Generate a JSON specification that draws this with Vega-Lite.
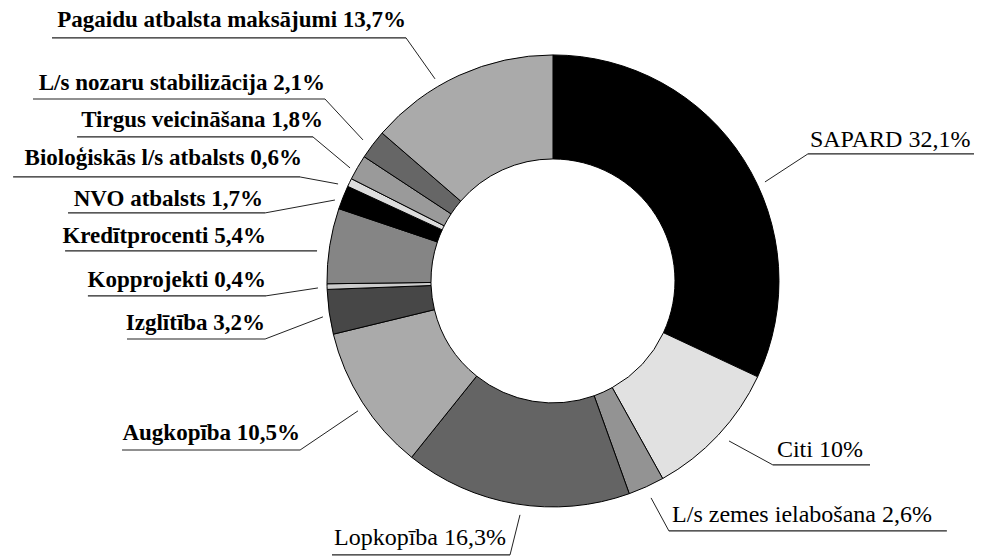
{
  "$schema": "https://vega.github.io/schema/vega-lite/v6.json",
  "width": 988,
  "height": 556,
  "padding": 0,
  "autosize": {"type": "none"},
  "background": "white",
  "config": {"view": {"stroke": null}, "font": "Liberation Serif, serif"},
  "datasets": {
    "slices": [
      {"nr": 1, "category": "SAPARD", "share": 32.1},
      {"nr": 2, "category": "Citi", "share": 10},
      {"nr": 3, "category": "L/s zemes ielabošana", "share": 2.6},
      {"nr": 4, "category": "Lopkopība", "share": 16.3},
      {"nr": 5, "category": "Augkopība", "share": 10.5},
      {"nr": 6, "category": "Izglītība", "share": 3.2},
      {"nr": 7, "category": "Kopprojekti", "share": 0.4},
      {"nr": 8, "category": "Kredītprocenti", "share": 5.4},
      {"nr": 9, "category": "NVO atbalsts", "share": 1.7},
      {"nr": 10, "category": "Bioloģiskās l/s atbalsts", "share": 0.6},
      {"nr": 11, "category": "Tirgus veicināšana", "share": 1.8},
      {"nr": 12, "category": "L/s nozaru stabilizācija", "share": 2.1},
      {"nr": 13, "category": "Pagaidu atbalsta maksājumi", "share": 13.7}
    ],
    "labels": [
      {"category": "SAPARD", "label": "SAPARD 32,1%", "tx": 113.7, "ty": 59.3, "uin": 112.8, "uout": 186.3, "uy": 56.2, "px": 93.8, "py": 43.8},
      {"category": "Citi", "label": "Citi 10%", "tx": 99.1, "ty": -77.9, "uin": 97.3, "uout": 140.3, "uy": -81.4, "px": 77.9, "py": -70.8},
      {"category": "L/s zemes ielabošana", "label": "L/s zemes ielabošana 2,6%", "tx": 52.7, "ty": -106.6, "uin": 51.3, "uout": 174.3, "uy": -110.6, "px": 43.4, "py": -96.0},
      {"category": "Lopkopība", "label": "Lopkopība 16,3%", "tx": -20.8, "ty": -116.8, "uin": -19.0, "uout": -97.8, "uy": -121.2, "px": -14.6, "py": -103.5},
      {"category": "Augkopība", "label": "Augkopība 10,5%", "tx": -111.9, "ty": -70.4, "uin": -111.9, "uout": -190.7, "uy": -74.8, "px": -86.3, "py": -57.5},
      {"category": "Izglītība", "label": "Izglītība 3,2%", "tx": -127.4, "ty": -21.7, "uin": -127.4, "uout": -188.5, "uy": -25.7, "px": -101.8, "py": -15.9},
      {"category": "Kopprojekti", "label": "Kopprojekti 0,4%", "tx": -127.0, "ty": -2.7, "uin": -127.0, "uout": -205.8, "uy": -6.6, "px": -104.0, "py": -3.1},
      {"category": "Kredītprocenti", "label": "Kredītprocenti 5,4%", "tx": -127.0, "ty": 16.8, "uin": -104.4, "uout": -215.9, "uy": 13.3, "px": -104.4, "py": 13.3},
      {"category": "NVO atbalsts", "label": "NVO atbalsts 1,7%", "tx": -128.3, "ty": 33.2, "uin": -127.4, "uout": -214.6, "uy": 30.1, "px": -96.5, "py": 35.8},
      {"category": "Bioloģiskās l/s atbalsts", "label": "Bioloģiskās l/s atbalsts 0,6%", "tx": -111.1, "ty": 51.3, "uin": -111.9, "uout": -238.9, "uy": 46.0, "px": -95.1, "py": 42.9},
      {"category": "Tirgus veicināšana", "label": "Tirgus veicināšana 1,8%", "tx": -101.8, "ty": 68.1, "uin": -106.2, "uout": -210.6, "uy": 63.7, "px": -89.8, "py": 50.0},
      {"category": "L/s nozaru stabilizācija", "label": "L/s nozaru stabilizācija 2,1%", "tx": -100.9, "ty": 84.5, "uin": -100.9, "uout": -230.1, "uy": 80.5, "px": -84.1, "py": 62.4},
      {"category": "Pagaidu atbalsta maksājumi", "label": "Pagaidu atbalsta maksājumi 13,7%", "tx": -65.0, "ty": 112.4, "uin": -65.0, "uout": -221.7, "uy": 107.5, "px": -52.2, "py": 89.4}
    ]
  },
  "resolve": {"scale": {"x": "shared", "y": "shared"}},
  "layer": [
    {
      "data": {"name": "slices"},
      "mark": {"type": "arc", "outerRadius": 226, "innerRadius": 122, "stroke": "#000000", "strokeWidth": 1},
      "encoding": {
        "theta": {"field": "share", "type": "quantitative", "stack": true},
        "order": {"field": "nr", "type": "quantitative"},
        "color": {
          "field": "category",
          "type": "nominal",
          "legend": null,
          "scale": {
            "domain": ["SAPARD", "Citi", "L/s zemes ielabošana", "Lopkopība", "Augkopība", "Izglītība", "Kopprojekti", "Kredītprocenti", "NVO atbalsts", "Bioloģiskās l/s atbalsts", "Tirgus veicināšana", "L/s nozaru stabilizācija", "Pagaidu atbalsta maksājumi"],
            "range": ["#000000", "#e1e1e1", "#939393", "#646464", "#aaaaaa", "#474747", "#cccccc", "#858585", "#000000", "#dddddd", "#9a9a9a", "#666666", "#aaaaaa"]
          }
        },
        "x": {"datum": 0, "type": "quantitative", "axis": null, "scale": {"domain": [-244.7, 192.5], "nice": false, "zero": false}},
        "y": {"datum": 0, "type": "quantitative", "axis": null, "scale": {"domain": [-121.7, 124.3], "nice": false, "zero": false}}
      }
    },
    {
      "data": {"name": "labels"},
      "mark": {"type": "rule", "color": "#222222", "strokeWidth": 1.2},
      "encoding": {
        "x": {"field": "uin", "type": "quantitative", "axis": null, "scale": {"domain": [-244.7, 192.5], "nice": false, "zero": false}},
        "x2": {"field": "uout"},
        "y": {"field": "uy", "type": "quantitative", "axis": null, "scale": {"domain": [-121.7, 124.3], "nice": false, "zero": false}}
      }
    },
    {
      "data": {"name": "labels"},
      "mark": {"type": "rule", "color": "#222222", "strokeWidth": 1},
      "encoding": {
        "x": {"field": "uin", "type": "quantitative", "axis": null, "scale": {"domain": [-244.7, 192.5], "nice": false, "zero": false}},
        "y": {"field": "uy", "type": "quantitative", "axis": null, "scale": {"domain": [-121.7, 124.3], "nice": false, "zero": false}},
        "x2": {"field": "px"},
        "y2": {"field": "py"}
      }
    },
    {
      "data": {"name": "labels"},
      "transform": [{"filter": {"field": "category", "oneOf": ["SAPARD", "Citi", "L/s zemes ielabošana"]}}],
      "mark": {"type": "text", "align": "left", "baseline": "alphabetic", "fontSize": 24, "font": "Liberation Serif, serif", "color": "#000000"},
      "encoding": {
        "x": {"field": "tx", "type": "quantitative", "axis": null, "scale": {"domain": [-244.7, 192.5], "nice": false, "zero": false}},
        "y": {"field": "ty", "type": "quantitative", "axis": null, "scale": {"domain": [-121.7, 124.3], "nice": false, "zero": false}},
        "text": {"field": "label", "type": "nominal"}
      }
    },
    {
      "data": {"name": "labels"},
      "transform": [{"filter": {"field": "category", "oneOf": ["Lopkopība"]}}],
      "mark": {"type": "text", "align": "right", "baseline": "alphabetic", "fontSize": 24, "font": "Liberation Serif, serif", "color": "#000000"},
      "encoding": {
        "x": {"field": "tx", "type": "quantitative", "axis": null, "scale": {"domain": [-244.7, 192.5], "nice": false, "zero": false}},
        "y": {"field": "ty", "type": "quantitative", "axis": null, "scale": {"domain": [-121.7, 124.3], "nice": false, "zero": false}},
        "text": {"field": "label", "type": "nominal"}
      }
    },
    {
      "data": {"name": "labels"},
      "transform": [{"filter": {"not": {"field": "category", "oneOf": ["SAPARD", "Citi", "L/s zemes ielabošana", "Lopkopība"]}}}],
      "mark": {"type": "text", "align": "right", "baseline": "alphabetic", "fontSize": 23, "fontWeight": "bold", "font": "Liberation Serif, serif", "color": "#000000"},
      "encoding": {
        "x": {"field": "tx", "type": "quantitative", "axis": null, "scale": {"domain": [-244.7, 192.5], "nice": false, "zero": false}},
        "y": {"field": "ty", "type": "quantitative", "axis": null, "scale": {"domain": [-121.7, 124.3], "nice": false, "zero": false}},
        "text": {"field": "label", "type": "nominal"}
      }
    }
  ]
}
